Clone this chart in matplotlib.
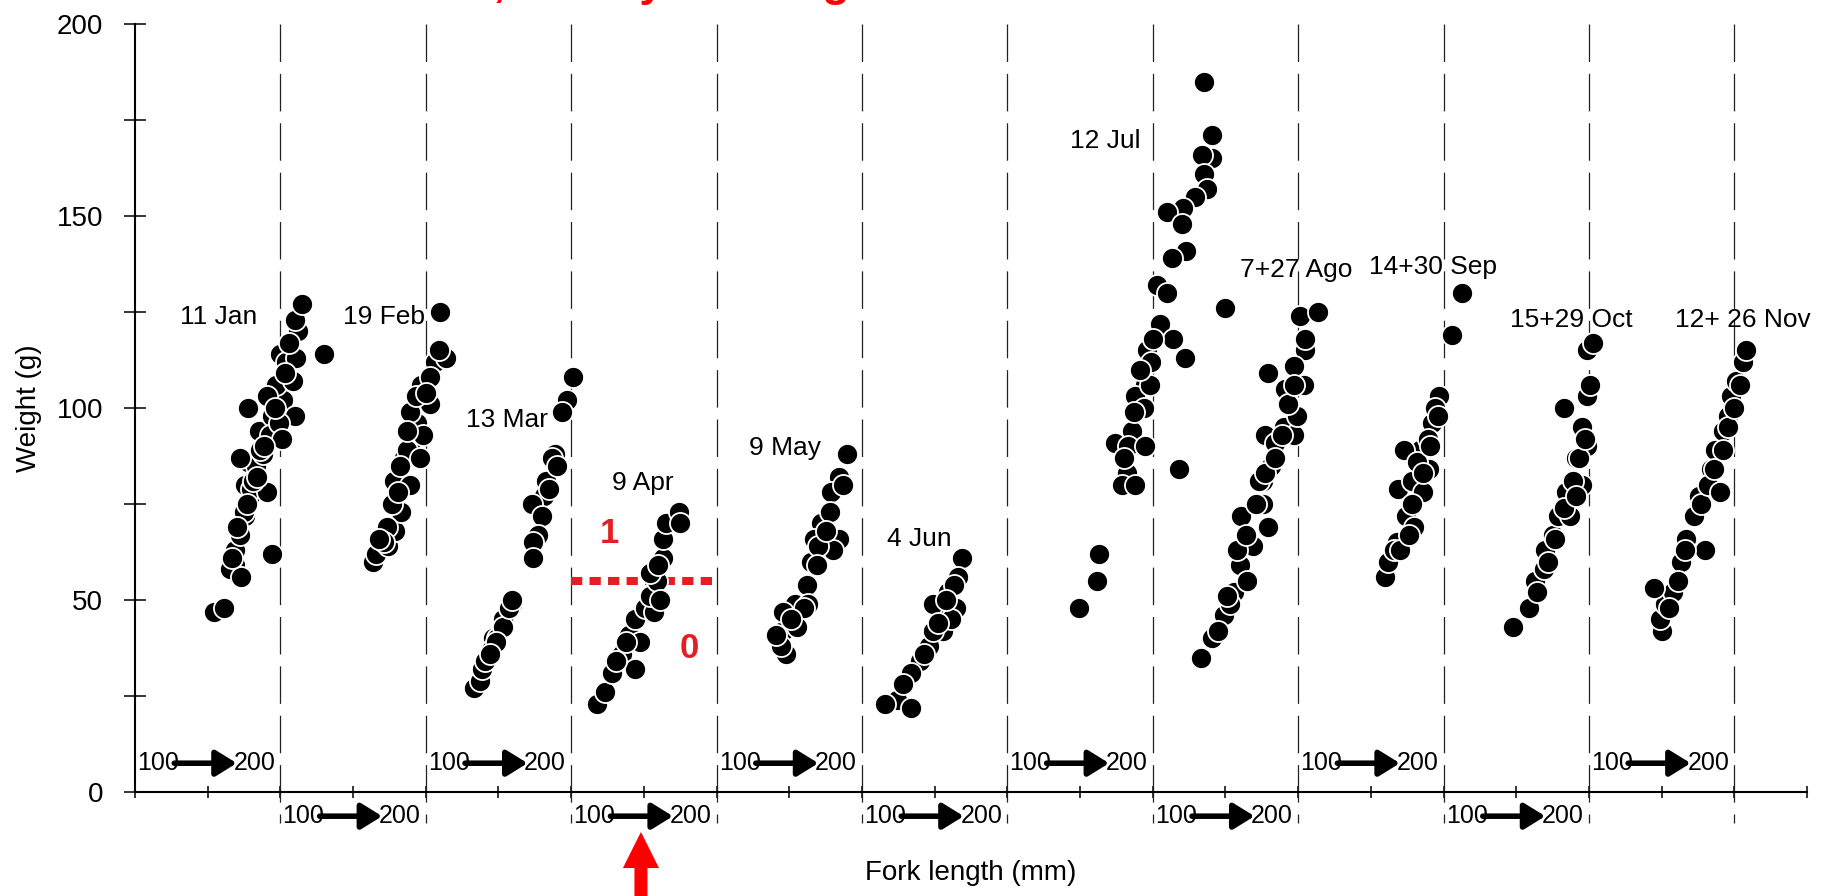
import numpy as np
import matplotlib
matplotlib.use("Agg")
import matplotlib.pyplot as plt
from matplotlib import font_manager

# pick a condensed sans if we have one
names = {f.name for f in font_manager.fontManager.ttflist}
base = "Liberation Sans Narrow" if "Liberation Sans Narrow" in names else "Liberation Sans"
plt.rcParams["font.family"] = [base, "DejaVu Sans"]

# fork length (mm) / weight (g)
jan_fl = [154, 161, 169, 165, 173, 169, 172, 176, 175, 179, 176, 180, 178, 183, 188, 191, 185, 194, 178, 194,
          202, 197, 209, 210, 200, 204, 211, 212, 210, 215, 230, 172, 186, 193, 199, 170, 181, 191, 201, 203,
          167, 177, 184, 189, 196, 206]
jan_wt = [47, 48, 59, 58, 56, 63, 67, 72, 73, 77, 80, 79, 86, 85, 88, 78, 94, 98, 100, 62,
          102, 106, 107, 98, 114, 112, 113, 120, 123, 127, 114, 87, 89, 93, 96, 69, 81, 103, 92, 109,
          61, 75, 82, 90, 100, 117]

feb_fl = [164, 166, 174, 179, 183, 177, 178, 189, 185, 191, 187, 194, 189, 197, 203, 196, 206, 214, 210, 203,
          193, 182, 173, 171, 198, 209, 168, 181, 187, 200]
feb_wt = [60, 62, 64, 68, 73, 75, 81, 80, 87, 92, 89, 96, 99, 106, 101, 87, 112, 113, 125, 108,
          103, 85, 69, 65, 93, 115, 66, 78, 94, 104]

mar_fl = [201, 197, 194, 189, 187, 183, 181, 173, 180, 177, 174, 174, 190, 185, 159, 153, 146,
          133, 137, 139, 141, 145, 149, 153, 157, 159, 148, 144]
mar_wt = [108, 102, 99, 88, 87, 81, 77, 75, 72, 67, 65, 61, 85, 79, 49, 45, 40,
          27, 29, 32, 34, 37, 40, 43, 48, 50, 39, 36]

apr_fl = [118, 123, 128, 135, 144, 140, 147, 144, 151, 157, 154, 159, 154, 163, 163, 165, 174, 175, 161, 138,
          131, 160]
apr_wt = [23, 26, 31, 36, 32, 41, 39, 45, 48, 47, 51, 55, 57, 61, 66, 70, 73, 70, 50, 39,
          34, 59]

may_fl = [190, 184, 179, 184, 180, 172, 178, 167, 165, 162, 154, 163, 146, 155, 148, 144, 141, 160, 170, 169,
          146, 187, 151, 175]
may_wt = [88, 82, 78, 66, 63, 70, 73, 66, 60, 54, 49, 49, 42, 43, 36, 38, 41, 48, 64, 59,
          47, 80, 45, 68]

jun_fl = [169, 166, 159, 165, 153, 156, 146, 140, 134, 124, 116, 134, 149, 161, 149, 163, 128, 158, 143, 152]
jun_wt = [61, 56, 52, 48, 47, 42, 38, 34, 31, 24, 23, 22, 42, 45, 49, 54, 28, 50, 36, 44]

jul_fl = [235, 241, 241, 234, 235, 237, 229, 221, 210, 220, 223, 213, 203, 210, 250, 205, 214, 222, 196, 199,
          195, 188, 194, 186, 174, 183, 195, 182, 179, 188, 218, 198, 200, 191, 187, 180, 149, 163, 162]
jul_wt = [185, 171, 165, 166, 161, 157, 155, 152, 151, 148, 141, 139, 132, 130, 126, 122, 118, 113, 115, 112,
          106, 103, 100, 94, 91, 90, 90, 83, 80, 80, 84, 106, 118, 110, 99, 87, 48, 62, 55]

aug_fl = [201, 214, 205, 205, 197, 179, 191, 204, 190, 197, 177, 184, 176, 181, 194, 199,
          133, 141, 149, 156, 160, 161, 169, 176, 165, 179, 173, 145, 153,
          151, 158, 164, 171, 177, 184, 189, 193, 197]
aug_wt = [124, 125, 115, 118, 111, 109, 105, 106, 95, 93, 93, 91, 81, 85, 101, 98,
          35, 40, 46, 52, 59, 72, 64, 75, 55, 69, 81, 42, 49,
          51, 63, 67, 75, 83, 87, 93, 101, 106]

sep_fl = [160, 162, 168, 174, 169, 178, 184, 173, 192, 197, 186, 180, 206, 213, 190, 166, 182, 194, 189, 178,
          170, 176, 186, 191, 196]
sep_wt = [56, 60, 65, 72, 79, 81, 89, 89, 96, 103, 78, 69, 119, 130, 84, 63, 86, 100, 92, 75,
          63, 67, 83, 90, 98]

oct_fl = [148, 159, 163, 169, 170, 175, 179, 184, 183, 191, 195, 199, 195, 199, 201, 199, 203, 187,
          164, 172, 177, 183, 189, 193, 197, 191]
oct_wt = [43, 48, 55, 58, 63, 67, 72, 78, 100, 87, 95, 90, 80, 103, 106, 115, 117, 72,
          52, 60, 66, 74, 81, 87, 92, 77]

nov_fl = [150, 149, 152, 158, 163, 167, 172, 176, 184, 187, 192, 196, 198, 201, 206, 208, 204, 180, 145,
          155, 161, 166, 177, 182, 186, 192, 196, 200, 190]
nov_wt = [42, 45, 49, 52, 60, 66, 72, 77, 84, 89, 94, 98, 103, 107, 112, 115, 106, 63, 53,
          48, 55, 63, 75, 80, 84, 89, 95, 100, 78]

samples = [(jan_fl, jan_wt), (feb_fl, feb_wt), (mar_fl, mar_wt), (apr_fl, apr_wt),
           (may_fl, may_wt), (jun_fl, jun_wt), (jul_fl, jul_wt), (aug_fl, aug_wt),
           (sep_fl, sep_wt), (oct_fl, oct_wt), (nov_fl, nov_wt)]

month_labels = ["11 Jan", "19 Feb", "13 Mar", "9 Apr", "9 May", "4 Jun",
                "12 Jul", "7+27 Ago", "14+30 Sep", "15+29 Oct", "12+ 26 Nov"]
label_x = [0.574, 1.71, 2.556, 3.49, 4.47, 5.397, 6.67, 7.985, 8.93, 9.88, 11.06]
label_y = [123.7, 123.7, 97, 80.5, 89.6, 66, 169.5, 136, 136.7, 123, 123]

maturity_cut = 55  # g, April threshold
red = "#e31e24"

fig = plt.figure(figsize=(18.37, 8.96), dpi=100)
ax = fig.add_axes([135 / 1837, 104 / 896, 1672 / 1837, 768 / 896])

# each month gets its own 100-200 mm window, shifted one panel along
for i, (fl, wt) in enumerate(samples):
    x = i + (np.array(fl) - 100) / 100.0
    ax.scatter(x, wt, s=230, c="black", edgecolors="white", linewidths=1.3, zorder=4)

for i in range(1, 12):
    ax.plot([i, i], [200, -8], color="#222222", lw=0.9, ls=(0, (30, 9.5)),
            clip_on=False, zorder=2)

# 100 -> 200 keys, alternating above / below the axis
for i in range(11):
    y = 7.5 if i % 2 == 0 else -6.3
    ax.text(i + 0.015, y, "100", fontsize=18, ha="left", va="center", clip_on=False)
    ax.text(i + 0.965, y, "200", fontsize=18, ha="right", va="center", clip_on=False)
    ax.annotate("", xy=(i + 0.70, y), xytext=(i + 0.27, y), annotation_clip=False,
                arrowprops=dict(arrowstyle="-|>,head_length=0.42,head_width=0.26",
                                lw=4, color="black", mutation_scale=30,
                                shrinkA=0, shrinkB=0))

for lab, lx, ly in zip(month_labels, label_x, label_y):
    ax.text(lx, ly, lab, fontsize=19, ha="center", va="center", zorder=5)

# April maturity split
ax.plot([3, 4], [maturity_cut, maturity_cut], color=red, lw=5.8, ls=(0, (1.4, 0.9)),
        solid_capstyle="butt", zorder=3)
ax.text(3.26, 67.4, "1", color=red, fontsize=25, fontweight="bold", ha="center", va="center")
ax.text(3.81, 37.5, "0", color=red, fontsize=25, fontweight="bold", ha="center", va="center")
ax.annotate("", xy=(3.48, -10.4), xytext=(3.48, -27.5), annotation_clip=False,
            arrowprops=dict(arrowstyle="simple,head_length=1.0,head_width=1.0,tail_width=0.36",
                            color="#ff0000", lw=0, mutation_scale=26, shrinkA=0, shrinkB=0))

# cut-off heading above the frame (only the descenders show)
fig.text(256 / 1837, 1 + 4 / 896, "Mature fish, weekly tracking", color="#ff0000", fontsize=32,
         fontweight="bold", ha="left", va="baseline", family=["Liberation Sans", "DejaVu Sans"])

ax.set_xlim(0, 11.5)
ax.set_ylim(0, 200)
ax.set_xticks(np.arange(0, 11.51, 0.5))
ax.set_yticks([0, 50, 100, 150, 200])
ax.set_yticks([25, 75, 125, 175], minor=True)
ax.tick_params(axis="x", direction="inout", length=8, width=1.1, labelbottom=False)
ax.tick_params(axis="y", which="both", direction="inout", length=15.8, width=1.1,
               pad=15, labelsize=20)
for side in ("top", "right"):
    ax.spines[side].set_visible(False)
for side in ("left", "bottom"):
    ax.spines[side].set_linewidth(1.5)

ax.set_ylabel("Weight (g)", fontsize=20, family=["Liberation Sans", "DejaVu Sans"])
ax.yaxis.set_label_coords(-0.0556, 0.5)
ax.set_xlabel("Fork length (mm)", fontsize=20, family=["Liberation Sans", "DejaVu Sans"])
ax.xaxis.set_label_coords(0.5, -0.105)
ax.xaxis.label.set_va("center")

fig.savefig("out.png", dpi=100)
